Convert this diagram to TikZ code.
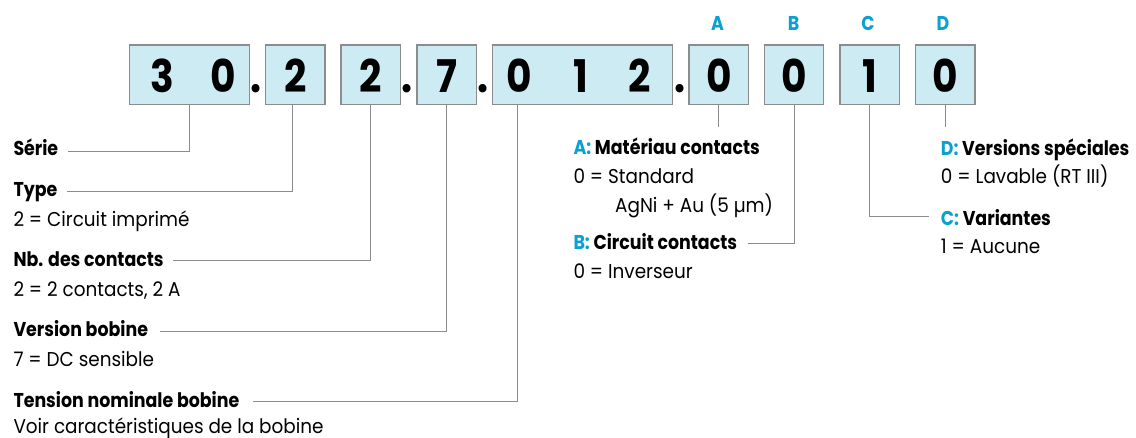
\documentclass[tikz,border=0pt]{standalone}
\usepackage{fontspec}
\setmainfont{Poppins}[FakeStretch=0.92,BoldFeatures={FakeStretch=0.87}]
\definecolor{boxfill}{HTML}{CDEBF3}
\definecolor{boxline}{HTML}{8C8C8C}
\definecolor{lineg}{HTML}{8C8C8C}
\definecolor{cyanl}{HTML}{0AA0D0}
\begin{document}
\begin{tikzpicture}[x=1pt,y=-1pt,
  digitbox/.style={draw=boxline,line width=1.3pt,fill=boxfill,minimum height=59.3pt,inner sep=0pt,minimum width=#1},
  digitbox/.default=59.5pt,
  digit/.style={font=\fontsize{45}{45}\selectfont\bfseries,anchor=base,inner sep=0pt},
  head/.style={font=\fontsize{20}{22}\selectfont\bfseries,anchor=base west,inner sep=0pt},
  val/.style={font=\fontsize{20}{22}\selectfont,anchor=base west,inner sep=0pt},
  letter/.style={font=\fontsize{20}{22}\selectfont\bfseries,text=cyanl,anchor=base,inner sep=0pt},
  conn/.style={draw=lineg,line width=1pt}]
\useasboundingbox (0,0) rectangle (1136,438);
% boxes
\node[digitbox=120pt] (b1) at (189.3,74.7) {};
\node[digitbox] (b2) at (295.3,74.7) {};
\node[digitbox] (b3) at (370.8,74.7) {};
\node[digitbox] (b4) at (446.7,74.7) {};
\node[digitbox=180.4pt] (b5) at (582.5,74.7) {};
\node[digitbox] (b6) at (718.8,74.7) {};
\node[digitbox] (b7) at (794,74.7) {};
\node[digitbox] (b8) at (869.7,74.7) {};
\node[digitbox] (b9) at (945.2,74.7) {};
% digits
\node[digit] (d1a) at (162.8,92.7) {3};
\node[digit] (d1b) at (223.3,92.7) {0};
\node[digit] (d2) at (295.3,92.7) {2};
\node[digit] (d3) at (370.8,92.7) {2};
\node[digit] (d4) at (446.7,92.7) {7};
\node[digit] (d5a) at (519.3,92.7) {0};
\node[digit] (d5b) at (581,92.7) {1};
\node[digit] (d5c) at (639.3,92.7) {2};
\node[digit] (d6) at (718.8,92.7) {0};
\node[digit] (d7) at (794,92.7) {0};
\node[digit] (d8) at (869.7,92.7) {1};
\node[digit] (d9) at (945.2,92.7) {0};
% dots
\node[digit] (p1) at (256.5,92.7) {.};
\node[digit] (p2) at (407.5,92.7) {.};
\node[digit] (p3) at (483.5,92.7) {.};
\node[digit] (p4) at (680.3,92.7) {.};
% letters
\node[letter] (lA) at (717.5,30.7) {A};
\node[letter] (lB) at (793.5,30.7) {B};
\node[letter] (lC) at (868,30.7) {C};
\node[letter] (lD) at (943,30.7) {D};
% left labels
\node[head] (serie) at (13.3,156) {Série};
\node[head] (type) at (13.3,196.5) {Type};
\node[val] (typev) at (13.3,226.5) {2 = Circuit imprimé};
\node[head] (nb) at (13.3,267) {Nb. des contacts};
\node[val] (nbv) at (13.3,296.5) {2 = 2 contacts, 2 A};
\node[head] (vers) at (13.3,337) {Version bobine};
\node[val] (versv) at (13.3,366.5) {7 = DC sensible};
\node[head] (tens) at (13.3,407) {Tension nominale bobine};
\node[val] (tensv) at (13.3,433) {Voir caractéristiques de la bobine};
% right labels
\node[head] (ha) at (573.3,155) {\textcolor{cyanl}{A:} Matériau contacts};
\node[val] (va1) at (573.3,183.3) {0 = Standard};
\node[val] (va2) at (615,212.7) {AgNi + Au (5 µm)};
\node[head] (hb) at (573.3,250) {\textcolor{cyanl}{B:} Circuit contacts};
\node[val] (vb) at (573.3,278.3) {0 = Inverseur};
\node[head] (hd) at (940.7,156) {\textcolor{cyanl}{D:} Versions spéciales};
\node[val] (vd) at (940.7,183.3) {0 = Lavable (RT III)};
\node[head] (hc) at (940.7,226) {\textcolor{cyanl}{C:} Variantes};
\node[val] (vc) at (940.7,253.3) {1 = Aucune};
% connector end points
\coordinate (eSerie) at (68.3,151.7);
\coordinate (eType) at (66.7,191.7);
\coordinate (eNb) at (173.3,260.7);
\coordinate (eVers) at (160.3,332);
\coordinate (eTens) at (253.4,402);
\coordinate (eA) at (718.8,127.3);
\coordinate (eB) at (748.3,244);
\coordinate (eC) at (929.3,216.7);
\coordinate (eD) at (945.2,126.7);
% connectors
\draw[conn] (b1.south) |- (eSerie);
\draw[conn] ([xshift=-3pt]b2.south) |- (eType);
\draw[conn] (b3.south) |- (eNb);
\draw[conn] (b4.south) |- (eVers);
\draw[conn] ([xshift=-65pt]b5.south) |- (eTens);
\draw[conn] (b6.south) -- (eA);
\draw[conn] (b7.south) |- (eB);
\draw[conn] (b8.south) |- (eC);
\draw[conn] (b9.south) -- (eD);
\end{tikzpicture}
\end{document}
